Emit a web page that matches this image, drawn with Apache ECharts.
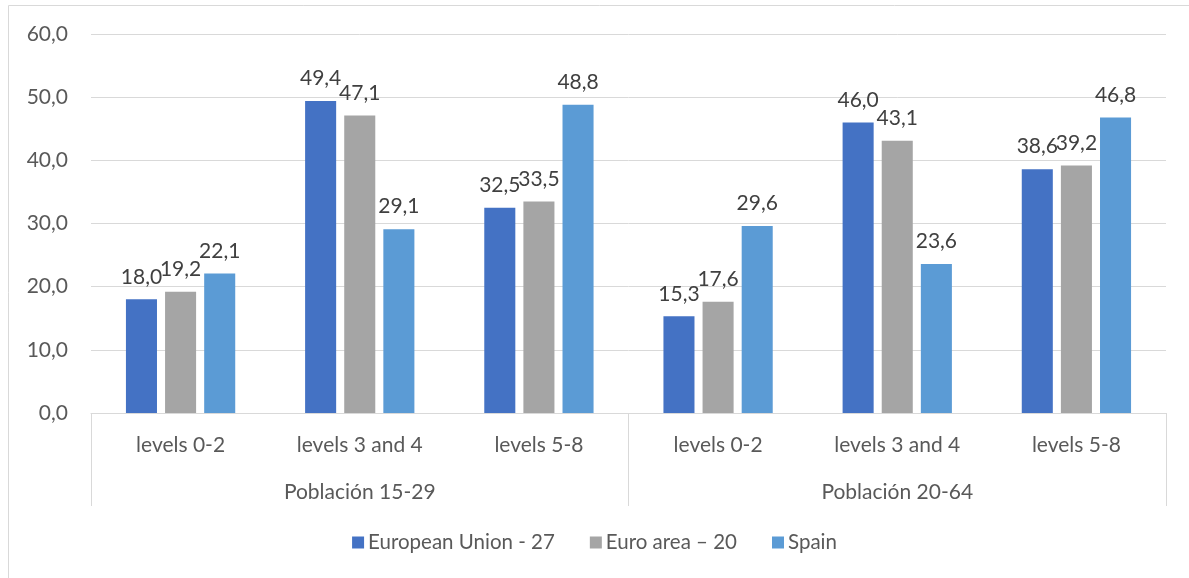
<!DOCTYPE html>
<html>
<head>
<meta charset="utf-8">
<script src="https://cdn.jsdelivr.net/npm/echarts@6/dist/echarts.min.js"></script>
<style>
html,body{margin:0;padding:0;background:#fff;}
#c{width:1189px;height:578px;}
</style>
</head>
<body>
<div id="c"></div>
<script>
const levels = ['levels 0-2', 'levels 3 and 4', 'levels 5-8', 'levels 0-2', 'levels 3 and 4', 'levels 5-8'];
const groups = ['Población 15-29', 'Población 20-64'];
const seriesNames = ['European Union - 27', 'Euro area \u2013 20', 'Spain'];
const euValues = [18.0, 49.4, 32.5, 15.3, 46.0, 38.6];
const euroAreaValues = [19.2, 47.1, 33.5, 17.6, 43.1, 39.2];
const spainValues = [22.1, 29.1, 48.8, 29.6, 23.6, 46.8];
const colors = ['#4472C4', '#A5A5A5', '#5B9BD5'];

const FONT = 'Lato';
const FS = 21;
const fmt = v => Number(v).toFixed(1).replace('.', ',');

const chart = echarts.init(document.getElementById('c'), null, {renderer: 'canvas'});
const mkSeries = (name, data, color) => ({
  name: name,
  type: 'bar',
  data: data,
  xAxisIndex: 0,
  barCategoryGap: '39%',
  barGap: '26%',
  itemStyle: {color: color},
  label: {
    show: true,
    position: 'top',
    distance: 12,
    formatter: p => fmt(p.value),
    color: '#404040',
    fontFamily: FONT,
    fontSize: FS
  }
});

chart.setOption({
  animation: false,
  textStyle: {fontFamily: FONT},
  graphic: [{
    type: 'rect',
    shape: {x: 8.5, y: 5.5, width: 1300, height: 700},
    style: {fill: 'none', stroke: '#d9d9d9', lineWidth: 1},
    silent: true
  }],
  grid: {left: 91, right: 23, top: 34, bottom: 165, containLabel: false},
  legend: {
    data: seriesNames,
    bottom: 20,
    left: 'center',
    itemWidth: 12,
    itemHeight: 12,
    itemGap: 35,
    icon: 'rect',
    textStyle: {color: '#595959', fontFamily: FONT, fontSize: 20.5, padding: [0, 0, 0, -1]}
  },
  xAxis: [{
    type: 'category',
    data: levels,
    position: 'bottom',
    axisLine: {show: true, lineStyle: {color: '#d9d9d9', width: 1}},
    axisTick: {show: false},
    axisLabel: {color: '#595959', fontFamily: FONT, fontSize: FS, margin: 22, interval: 0}
  }, {
    type: 'category',
    data: groups,
    position: 'bottom',
    axisLine: {show: false},
    axisTick: {show: true, length: 93, lineStyle: {color: '#d9d9d9', width: 1}},
    axisLabel: {color: '#595959', fontFamily: FONT, fontSize: FS, margin: 69, interval: 0},
    splitLine: {show: false}
  }],
  yAxis: {
    type: 'value',
    min: 0,
    max: 60,
    interval: 10,
    axisLine: {show: false},
    axisTick: {show: false},
    axisLabel: {color: '#595959', fontFamily: FONT, fontSize: FS, margin: 23, formatter: v => fmt(v)},
    splitLine: {lineStyle: {color: '#d9d9d9', width: 1}}
  },
  series: [
    mkSeries(seriesNames[0], euValues, colors[0]),
    mkSeries(seriesNames[1], euroAreaValues, colors[1]),
    mkSeries(seriesNames[2], spainValues, colors[2])
  ]
});
</script>
</body>
</html>
